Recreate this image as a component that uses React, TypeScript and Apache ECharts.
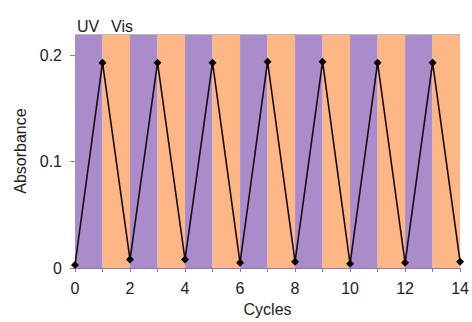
import React, { useEffect, useRef } from "react";
import * as echarts from "echarts";

const cycles = [0, 1, 2, 3, 4, 5, 6, 7, 8, 9, 10, 11, 12, 13, 14];
const absorbance = [0.003, 0.193, 0.008, 0.193, 0.008, 0.193, 0.005, 0.194, 0.006, 0.194, 0.004, 0.193, 0.005, 0.193, 0.006];
const bandLabels = ["UV", "Vis"];
const bandColors = ["#AA8CCA", "#FDB787"];
const xTicks = [0, 2, 4, 6, 8, 10, 12, 14];

export default function App() {
  const ref = useRef<HTMLDivElement>(null);
  useEffect(() => {
    document.body.style.margin = "0";
    const chart = echarts.init(ref.current!, null, { renderer: "svg" });
    const bands: any[] = [];
    for (let i = 0; i < cycles.length - 1; i++) {
      bands.push([
        { xAxis: cycles[i], itemStyle: { color: bandColors[i % 2], opacity: 1 } },
        { xAxis: cycles[i + 1] },
      ]);
    }
    chart.setOption({
      animation: false,
      textStyle: { fontFamily: "Liberation Sans, Arial, sans-serif" },
      grid: { left: 75, right: 9, top: 34, bottom: 49 },
      title: [
        { text: bandLabels[0], left: 72, top: 13, textStyle: { fontSize: 16, fontWeight: "normal", color: "#222" } },
        { text: bandLabels[1], left: 106, top: 13, textStyle: { fontSize: 16, fontWeight: "normal", color: "#222" } },
      ],
      xAxis: {
        type: "value",
        min: 0,
        max: 14,
        interval: 1,
        name: "Cycles",
        nameLocation: "middle",
        nameGap: 32,
        nameTextStyle: { fontSize: 16, color: "#222" },
        splitLine: { show: false },
        axisLine: { show: true, lineStyle: { color: "#8E78B8", width: 1 } },
        axisTick: { show: true, length: 4, inside: false, lineStyle: { color: "#8E78B8" } },
        axisLabel: {
          fontSize: 16,
          color: "#222",
          margin: 12,
          formatter: (v: number) => (xTicks.includes(v) ? String(v) : ""),
        },
      },
      yAxis: {
        type: "value",
        min: 0,
        max: 0.22,
        interval: 0.1,
        name: "Absorbance",
        nameLocation: "middle",
        nameGap: 47,
        nameRotate: 90,
        nameTextStyle: { fontSize: 16, color: "#222" },
        splitLine: { show: false },
        axisLine: { show: false },
        axisTick: { show: true, length: 5, lineStyle: { color: "#8E78B8" } },
        axisLabel: {
          fontSize: 16,
          color: "#222",
          margin: 13,
          formatter: (v: number) => (v === 0 ? "0" : v.toFixed(1)),
          showMaxLabel: false,
        },
      },
      series: [
        {
          type: "line",
          data: cycles.map((c, i) => [c, absorbance[i]]),
          symbol: "diamond",
          symbolSize: 8,
          lineStyle: { color: "#1a0a12", width: 1.6 },
          itemStyle: { color: "#000" },
          markArea: { silent: true, data: bands },
          markLine: {
            silent: true,
            symbol: "none",
            label: { show: false },
            lineStyle: { color: "#BBBBBB", type: "solid", width: 1 },
            data: [{ yAxis: 0.22 }],
          },
          z: 5,
        },
      ],
    });
    return () => chart.dispose();
  }, []);
  return <div ref={ref} style={{ width: 472, height: 322 }} />;
}
